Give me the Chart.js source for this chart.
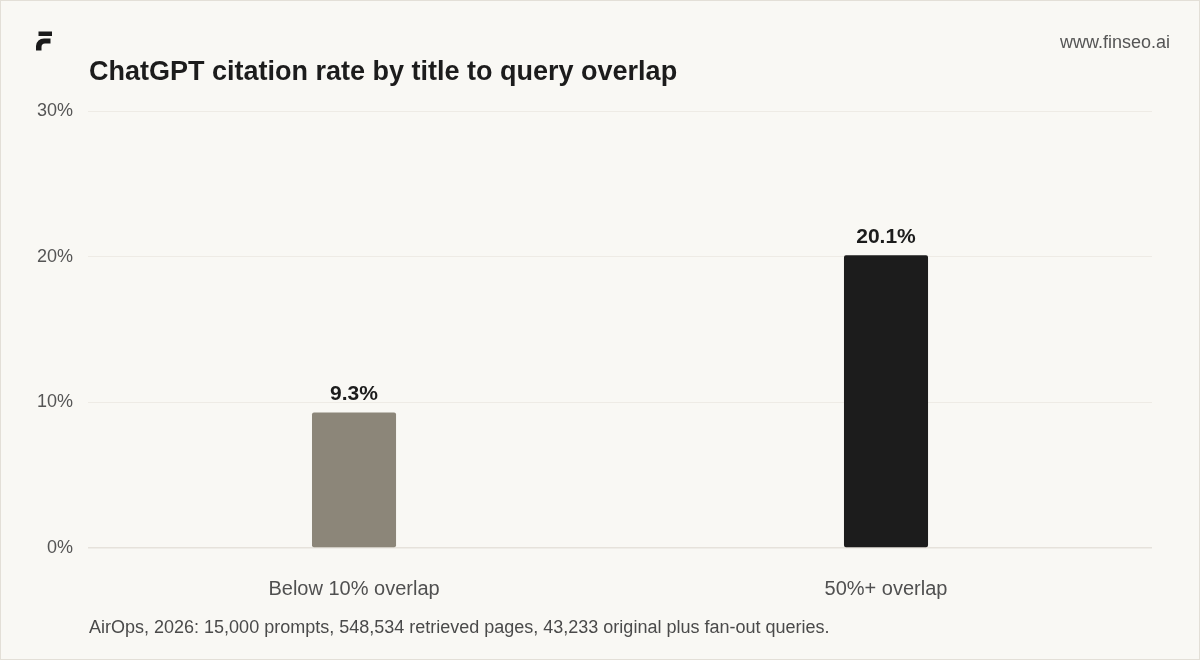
<!DOCTYPE html>
<html>
<head>
<meta charset="utf-8">
<title>ChatGPT citation rate by title to query overlap</title>
<script src="https://cdn.jsdelivr.net/npm/chart.js@4.4.1/dist/chart.umd.min.js"></script>
<style>
  html, body { margin: 0; padding: 0; background: #f9f8f4; }
  #wrap { width: 1200px; height: 660px; position: relative; }
</style>
</head>
<body>
<div id="wrap"><canvas id="chart" width="1200" height="660"></canvas></div>
<script>
  /* Data */
  var CATEGORIES = ['Below 10% overlap', '50%+ overlap'];
  var RATES      = [9.3, 20.1];
  var BAR_COLORS = ['#8c8679', '#1c1c1c'];
  var Y_TICKS    = [0, 10, 20, 30];

  var TITLE  = 'ChatGPT citation rate by title to query overlap';
  var SITE   = 'www.finseo.ai';
  var SOURCE = 'AirOps, 2026: 15,000 prompts, 548,534 retrieved pages, 43,233 original plus fan-out queries.';

  var FONT = "'Liberation Sans', Arial, Helvetica, sans-serif";

  /* Background, frame, header and footnote */
  var framePlugin = {
    id: 'frame',
    beforeDraw: function (chart) {
      var ctx = chart.ctx;
      ctx.save();
      ctx.fillStyle = '#f9f8f4';
      ctx.fillRect(0, 0, chart.width, chart.height);
      ctx.restore();
    },
    afterDraw: function (chart) {
      var ctx = chart.ctx, area = chart.chartArea;
      ctx.save();

      /* border */
      ctx.strokeStyle = '#e3dfd7';
      ctx.lineWidth = 1;
      ctx.strokeRect(0.5, 0.5, chart.width - 1, chart.height - 1);

      /* logo mark */
      ctx.fillStyle = '#1a1a1a';
      ctx.fillRect(38.5, 31.5, 13.5, 4.5);
      ctx.beginPath();
      ctx.moveTo(36, 50.5);
      ctx.lineTo(36, 46);
      ctx.quadraticCurveTo(37, 38.5, 44, 38.5);
      ctx.lineTo(50.5, 38.5);
      ctx.lineTo(50.5, 43.5);
      ctx.lineTo(45, 43.5);
      ctx.quadraticCurveTo(41.5, 43.5, 41.5, 47);
      ctx.lineTo(41.5, 50.5);
      ctx.closePath();
      ctx.fill();

      /* title */
      ctx.fillStyle = '#1c1c1c';
      ctx.font = 'bold 27px ' + FONT;
      ctx.textAlign = 'left';
      ctx.textBaseline = 'middle';
      ctx.fillText(TITLE, area.left + 1, 73);

      /* site */
      ctx.fillStyle = '#555555';
      ctx.font = '18px ' + FONT;
      ctx.textAlign = 'right';
      ctx.fillText(SITE, area.right + 18, 43);

      /* footnote */
      ctx.fillStyle = '#4a4a4a';
      ctx.font = '18px ' + FONT;
      ctx.textAlign = 'left';
      ctx.fillText(SOURCE, area.left + 1, 628);

      ctx.restore();
    }
  };

  /* Value labels above bars */
  var valueLabels = {
    id: 'valueLabels',
    afterDatasetsDraw: function (chart) {
      var ctx = chart.ctx;
      var meta = chart.getDatasetMeta(0);
      ctx.save();
      ctx.fillStyle = '#1c1c1c';
      ctx.font = 'bold 21px ' + FONT;
      ctx.textAlign = 'center';
      ctx.textBaseline = 'bottom';
      meta.data.forEach(function (bar, i) {
        ctx.fillText(RATES[i].toFixed(1) + '%', bar.x, bar.y - 8);
      });
      ctx.restore();
    }
  };

  new Chart(document.getElementById('chart').getContext('2d'), {
    type: 'bar',
    data: {
      labels: CATEGORIES,
      datasets: [{
        data: RATES,
        backgroundColor: BAR_COLORS,
        borderRadius: 2,
        borderSkipped: false,
        barPercentage: 0.158,
        categoryPercentage: 1.0
      }]
    },
    options: {
      responsive: false,
      animation: false,
      events: [],
      layout: { padding: { top: 111, left: 22, right: 48, bottom: 38 } },
      plugins: {
        legend: { display: false },
        title: { display: false },
        tooltip: { enabled: false }
      },
      scales: {
        x: {
          grid: { display: false },
          border: { display: false },
          ticks: {
            color: '#505050',
            font: { family: FONT, size: 20 },
            padding: 21
          }
        },
        y: {
          min: 0,
          max: 30,
          afterBuildTicks: function (axis) {
            axis.ticks = Y_TICKS.map(function (v) { return { value: v }; });
          },
          grid: {
            color: function (c) { return c.tick.value === 0 ? '#e6e2db' : '#eeebe5'; },
            lineWidth: function (c) { return c.tick.value === 0 ? 1.5 : 1; },
            drawTicks: false
          },
          border: { display: false },
          ticks: {
            color: '#555555',
            font: { family: FONT, size: 18 },
            padding: 15,
            callback: function (v) { return v + '%'; }
          }
        }
      }
    },
    plugins: [framePlugin, valueLabels]
  });
</script>
</body>
</html>
